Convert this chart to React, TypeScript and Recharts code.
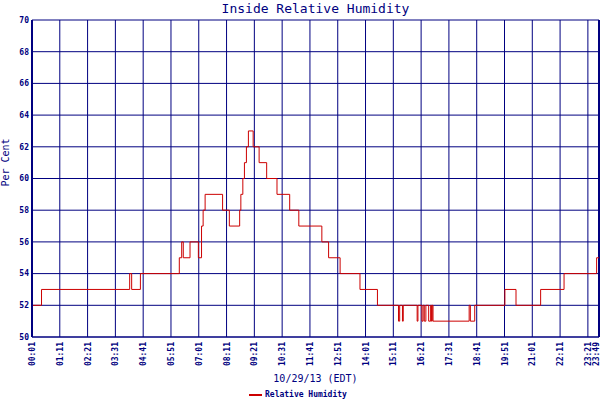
import { LineChart, Line, XAxis, YAxis, CartesianGrid, Legend, ReferenceLine } from "recharts";

// minutes since midnight where the reading changes, and the reading from then on
const minutes = [
    1, 25, 247, 252, 274, 372, 378, 382, 399, 420, 428, 432, 437, 481, 498, 524,
    527, 532, 536, 541, 546, 558, 573, 592, 618, 650, 673, 731, 748, 777, 827, 871,
    924, 927, 934, 936, 971, 973, 983, 986, 989, 993, 1000, 1005, 1007, 1009, 1011,
    1102, 1105, 1116, 1192, 1220, 1282, 1341, 1423, 1429,
];
const humidity = [
    52, 53, 54, 53, 54, 55, 56, 55, 56, 55, 57, 58, 59, 58, 57, 58,
    59, 60, 61, 62, 63, 62, 61, 60, 59, 58, 57, 56, 55, 54, 53, 52,
    51, 52, 51, 52, 51, 52, 51, 52, 51, 52, 51, 52, 51, 52, 51,
    52, 51, 52, 53, 52, 53, 54, 55, 55,
];
const timeTicks = [1, 71, 141, 211, 281, 351, 421, 491, 561, 631, 701, 771, 841, 911, 981, 1051, 1121, 1191, 1261, 1331, 1401, 1429];
const humidityTicks = [50, 52, 54, 56, 58, 60, 62, 64, 66, 68, 70];

const data = minutes.map((m, i) => ({ t: m, rh: humidity[i] }));

const NAVY = "#000080";
const RED = "#cc0000";
const MONO = "'DejaVu Sans Mono', 'Liberation Mono', monospace";

const hhmm = (m: number) => `${String(Math.floor(m / 60)).padStart(2, "0")}:${String(m % 60).padStart(2, "0")}`;

function TimeTick({ x, y, payload }: any) {
    // last label sits on the right border, nudge it in so it stays on the page
    const nx = payload.value === 1429 ? x - 3 : x;
    return (
        <g transform={`translate(${nx},${y})`}>
            <text transform="rotate(-90)" x={0} y={3} textAnchor="end" fill={NAVY} fontSize={8} fontWeight="bold" fontFamily={MONO}>
                {hhmm(payload.value)}
            </text>
        </g>
    );
}

function LegendLine() {
    return (
        <div style={{ display: "flex", alignItems: "center", fontFamily: MONO, fontSize: 8, color: NAVY, fontWeight: "bold", lineHeight: "10px" }}>
            <span style={{ display: "inline-block", width: 13, height: 2, background: RED, marginRight: 3 }} />
            Relative Humidity
        </div>
    );
}

export default function App() {
    return (
        <div style={{ position: "absolute", left: 0, top: 0, width: 600, height: 400, background: "#fff" }}>
            <div style={{ position: "absolute", left: 32, width: 567, top: 1, textAlign: "center", fontFamily: MONO, fontSize: 13, color: NAVY }}>
                Inside Relative Humidity
            </div>
            <LineChart width={600} height={400} data={data} margin={{ top: 20, right: 1, left: 0, bottom: 0 }}>
                <CartesianGrid stroke={NAVY} strokeWidth={1} />
                <XAxis
                    dataKey="t"
                    type="number"
                    domain={[1, 1429]}
                    ticks={timeTicks}
                    tick={<TimeTick />}
                    tickLine={false}
                    tickSize={3}
                    tickMargin={2}
                    interval={0}
                    height={49}
                    axisLine={{ stroke: NAVY }}
                    label={{ value: "10/29/13 (EDT)", position: "insideBottom", offset: 4, fill: NAVY, fontSize: 10, fontFamily: MONO }}
                />
                <YAxis
                    type="number"
                    domain={[50, 70]}
                    ticks={humidityTicks}
                    width={32}
                    tickLine={false}
                    tickSize={3}
                    tickMargin={0}
                    axisLine={{ stroke: NAVY, strokeWidth: 2 }}
                    tick={{ fill: NAVY, fontSize: 8, fontWeight: "bold", fontFamily: MONO }}
                    label={{ value: "Per Cent", angle: -90, position: "insideLeft", offset: 5, fill: NAVY, fontSize: 10, fontFamily: MONO, style: { textAnchor: "middle" }, dy: -16 }}
                />
                <ReferenceLine x={1429} stroke={NAVY} strokeWidth={2} />
                <Legend content={<LegendLine />} wrapperStyle={{ left: 249, width: 120, bottom: -4 }} height={14} />
                <Line type="stepAfter" dataKey="rh" stroke={RED} strokeWidth={1} dot={false} isAnimationActive={false} legendType="line" />
            </LineChart>
        </div>
    );
}
